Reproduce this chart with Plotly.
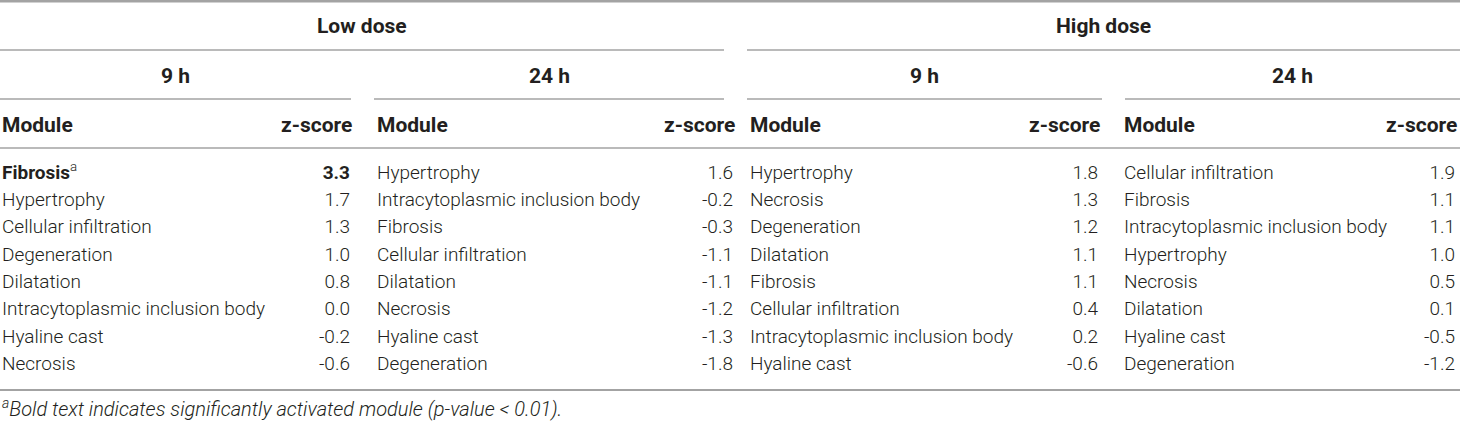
import plotly.graph_objects as go

# Module z-scores per dose / time point
doses = ["Low dose", "High dose"]
times = ["9 h", "24 h"]

low_9h_modules = ["Fibrosis", "Hypertrophy", "Cellular infiltration", "Degeneration",
                  "Dilatation", "Intracytoplasmic inclusion body", "Hyaline cast", "Necrosis"]
low_9h_scores = [3.3, 1.7, 1.3, 1.0, 0.8, 0.0, -0.2, -0.6]

low_24h_modules = ["Hypertrophy", "Intracytoplasmic inclusion body", "Fibrosis", "Cellular infiltration",
                   "Dilatation", "Necrosis", "Hyaline cast", "Degeneration"]
low_24h_scores = [1.6, -0.2, -0.3, -1.1, -1.1, -1.2, -1.3, -1.8]

high_9h_modules = ["Hypertrophy", "Necrosis", "Degeneration", "Dilatation",
                   "Fibrosis", "Cellular infiltration", "Intracytoplasmic inclusion body", "Hyaline cast"]
high_9h_scores = [1.8, 1.3, 1.2, 1.1, 1.1, 0.4, 0.2, -0.6]

high_24h_modules = ["Cellular infiltration", "Fibrosis", "Intracytoplasmic inclusion body", "Hypertrophy",
                    "Necrosis", "Dilatation", "Hyaline cast", "Degeneration"]
high_24h_scores = [1.9, 1.1, 1.1, 1.0, 0.5, 0.1, -0.5, -1.2]

significant = {("Low dose", "9 h"): "Fibrosis"}
footnote = "<sup>a</sup>Bold text indicates significantly activated module (p-value < 0.01)."

W, H = 1460, 422
txt_color = "#231f20"
line_color = "#a3a3a3"
family = "Roboto, Liberation Sans, Arial"
body_font = dict(family=family, size=19, color=txt_color, weight=300)
bold_font = dict(family=family, size=21, color=txt_color, weight=700)

# layout of the four column groups (pixel units)
groups = [
    ("Low dose", "9 h", low_9h_modules, low_9h_scores, 2, 350, 0, 351),
    ("Low dose", "24 h", low_24h_modules, low_24h_scores, 377, 733, 374, 724),
    ("High dose", "9 h", high_9h_modules, high_9h_scores, 750, 1098, 747, 1102),
    ("High dose", "24 h", high_24h_modules, high_24h_scores, 1124, 1455, 1125, 1460),
]
dose_spans = {"Low dose": (0, 724), "High dose": (747, 1460)}

row0, row_step = 174, 27.3

fig = go.Figure()

for dose, t, mods, scores, x_left, x_right, l0, l1 in groups:
    ys = [row0 + i * row_step for i in range(len(mods))]
    sig = significant.get((dose, t))
    mod_txt = [f"<b>{m}</b><sup>a</sup>" if m == sig else m for m in mods]
    sc_txt = [f"<b>{s:.1f}</b>" if m == sig else f"{s:.1f}" for m, s in zip(mods, scores)]
    fig.add_trace(go.Scatter(x=[x_left] * len(mods), y=ys, mode="text", text=mod_txt,
                             textposition="middle right", textfont=body_font,
                             showlegend=False, hoverinfo="skip"))
    fig.add_trace(go.Scatter(x=[x_right] * len(mods), y=ys, mode="text", text=sc_txt,
                             textposition="middle left", textfont=body_font,
                             showlegend=False, hoverinfo="skip"))
    # column headers
    fig.add_annotation(x=x_left - 2, y=125, text="<b>Module</b>", showarrow=False,
                       xanchor="left", yanchor="middle", font=bold_font)
    fig.add_annotation(x=x_right + 4, y=125, text="<b>z-score</b>", showarrow=False,
                       xanchor="right", yanchor="middle", font=bold_font)
    # time header + underline
    fig.add_annotation(x=(l0 + l1) / 2, y=76, text=f"<b>{t}</b>", showarrow=False,
                       xanchor="center", yanchor="middle", font=bold_font)
    fig.add_shape(type="line", x0=l0, x1=l1, y0=99, y1=99,
                  line=dict(color=line_color, width=1.3))

for dose, (d0, d1) in dose_spans.items():
    fig.add_annotation(x=(d0 + d1) / 2, y=26, text=f"<b>{dose}</b>", showarrow=False,
                       xanchor="center", yanchor="middle", font=bold_font)
    fig.add_shape(type="line", x0=d0, x1=d1, y0=50, y1=50,
                  line=dict(color=line_color, width=1.3))

# full width rules
fig.add_shape(type="line", x0=0, x1=W, y0=1, y1=1, line=dict(color=line_color, width=3))
fig.add_shape(type="line", x0=0, x1=W, y0=148, y1=148, line=dict(color=line_color, width=1.3))
fig.add_shape(type="line", x0=0, x1=W, y0=390, y1=390, line=dict(color=line_color, width=1.8))

fig.add_annotation(x=0, y=408, text=f"<i>{footnote}</i>", showarrow=False,
                   xanchor="left", yanchor="middle",
                   font=dict(family=family, size=20, color=txt_color, weight=300))

fig.update_layout(
    width=W, height=H,
    margin=dict(l=0, r=0, t=0, b=0),
    paper_bgcolor="white", plot_bgcolor="white",
    xaxis=dict(range=[0, W], visible=False, fixedrange=True),
    yaxis=dict(range=[H, 0], visible=False, fixedrange=True),
)

# drop the default body margin so the figure sits at the page corner
fig.write_html("out.html", config={"displayModeBar": False},
               post_script="document.body.style.margin='0';document.body.style.overflow='hidden';")
